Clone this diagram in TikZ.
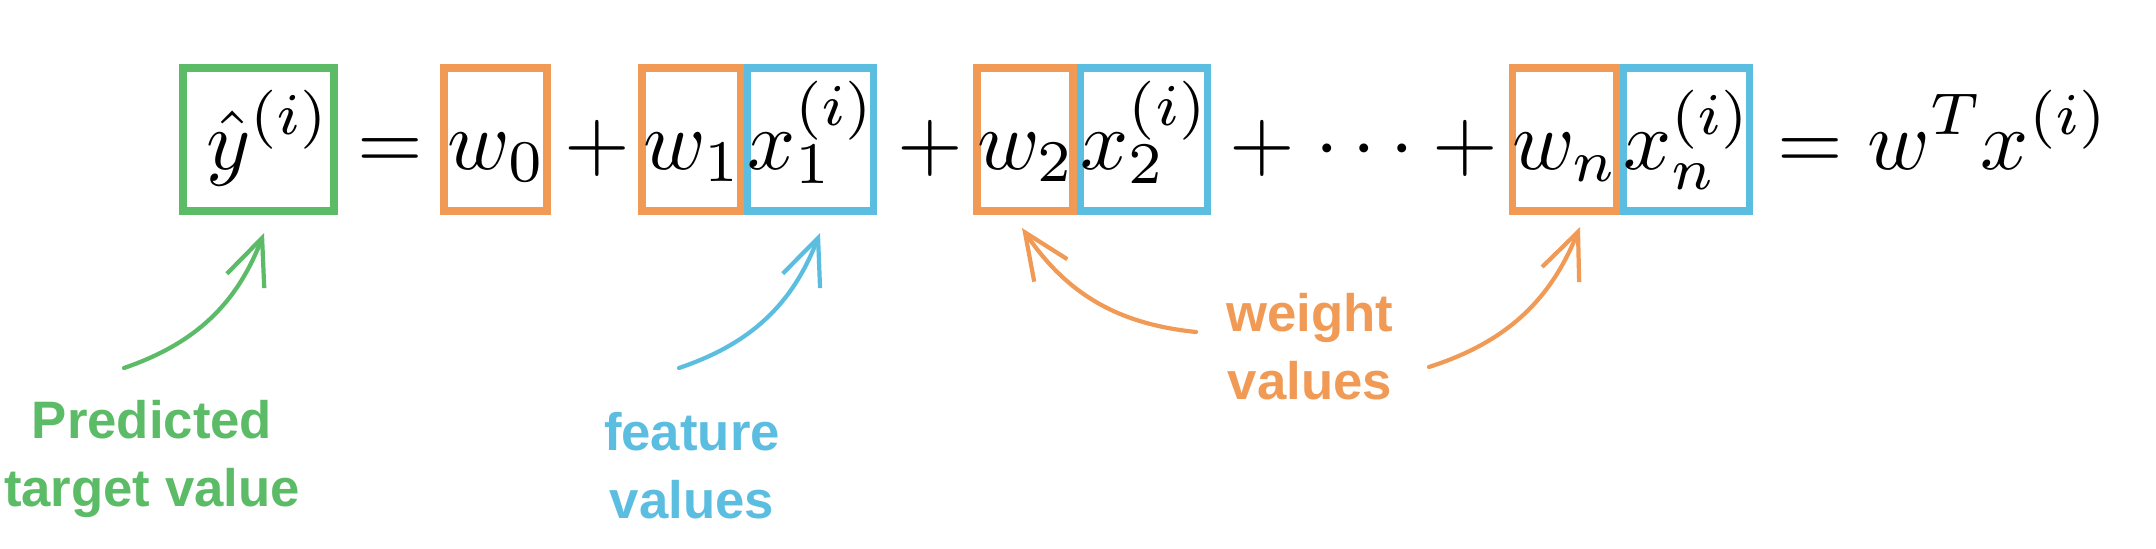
\documentclass[tikz,border=0pt]{standalone}
\usepackage[no-math]{fontspec}
\newfontfamily\labelfont{Liberation Sans}
\usetikzlibrary{arrows.meta}
\definecolor{predgreen}{RGB}{91,187,102}
\definecolor{weightorange}{RGB}{240,154,85}
\definecolor{featblue}{RGB}{91,190,224}
% 10pt 公式放大
\DeclareFontShape{OT1}{cmr}{m}{n}{<-12.5>cmr5 <12.5-20>cmr7 <20->cmr10}{}
\DeclareFontShape{OML}{cmm}{m}{it}{<-12.5>cmmi5 <12.5-20>cmmi7 <20->cmmi10}{}
\DeclareFontShape{OMS}{cmsy}{m}{n}{<-12.5>cmsy5 <12.5-20>cmsy7 <20->cmsy10}{}
\DeclareMathSizes{24}{24}{16.8}{12}
\everymath{\displaystyle}

\begin{document}
\begin{tikzpicture}[>={Straight Barb[length=4.6mm,width=4mm]},
    every node/.style={font=\fontsize{24}{29}\selectfont},
    term/.style={draw, line width=2pt, inner xsep=0pt, inner ysep=0pt,
        text height=1.01cm, text depth=0.42cm, anchor=base},
    sym/.style={anchor=base},
    lbl/.style={font=\labelfont\bfseries\fontsize{15}{19.35}\selectfont, align=center},
    hand/.style={->, line width=1.2pt, line cap=round}]
    \useasboundingbox (0,0) rectangle (21.56,5.48);

    % 公式
    \node[term, draw=predgreen, minimum width=1.51cm] (yhat) at (2.585,3.79) {\hspace*{0.18cm}$\hat{y}^{(i)}$};
    \node[sym] (eqa) at (3.90,3.79) {$=$};
    \node[term, draw=weightorange, minimum width=1.03cm] (wzero) at (4.955,3.79) {$w_0$};
    \node[sym] (plusa) at (5.975,3.79) {$+$};
    \node[term, draw=weightorange, minimum width=0.99cm] (wone) at (6.915,3.79) {$w_1$};
    \node[term, draw=featblue, minimum width=1.25cm] (xone) at (8.105,3.79) {$x_1^{(i)}$};
    \node[sym] (plusb) at (9.30,3.79) {$+$};
    \node[term, draw=weightorange, minimum width=0.96cm] (wtwo) at (10.25,3.79) {$w_2$};
    \node[term, draw=featblue, minimum width=1.24cm] (xtwo) at (11.44,3.79) {$x_2^{(i)}$};
    \node[sym] (plusc) at (12.625,3.79) {$+$};
    \node[sym] (dots) at (13.645,3.79) {$\cdots$};
    \node[sym] (plusd) at (14.65,3.79) {$+$};
    \node[term, draw=weightorange, minimum width=1.03cm] (wn) at (15.645,3.79) {$w_n$};
    \node[term, draw=featblue, minimum width=1.25cm] (xn) at (16.865,3.79) {$x_n^{(i)}$};
    \node[sym] (eqb) at (18.10,3.79) {$=$};
    \node[sym] (rhs) at (19.875,3.79) {$w^Tx^{(i)}$};

    % 说明
    \node[lbl, predgreen] (predlbl) at (1.52,0.89) {Predicted\\target value};
    \node[lbl, featblue] (featlbl) at (6.92,0.82) {feature\\values};
    \node[lbl, weightorange] (weightlbl) at (13.10,2.01) {weight\\values};

    % 箭头
    \coordinate (gtail) at (1.24,1.80);
    \coordinate (btail) at (6.79,1.80);
    \coordinate (otaila) at (11.96,2.16);
    \coordinate (otailb) at (14.29,1.81);
    \draw[hand, predgreen] (gtail) to[bend right=25] ([xshift=0.55mm,yshift=-1.85mm]yhat.south);
    \draw[hand, featblue] (btail) to[bend right=25] ([xshift=0.95mm,yshift=-1.85mm]xone.south);
    \draw[hand, weightorange] (otaila) to[bend left=25] ([xshift=-0.3mm,yshift=-1.35mm]wtwo.south);
    \draw[hand, weightorange] (otailb) to[bend right=25] ([xshift=1.55mm,yshift=-1.25mm]wn.south);
\end{tikzpicture}
\end{document}
